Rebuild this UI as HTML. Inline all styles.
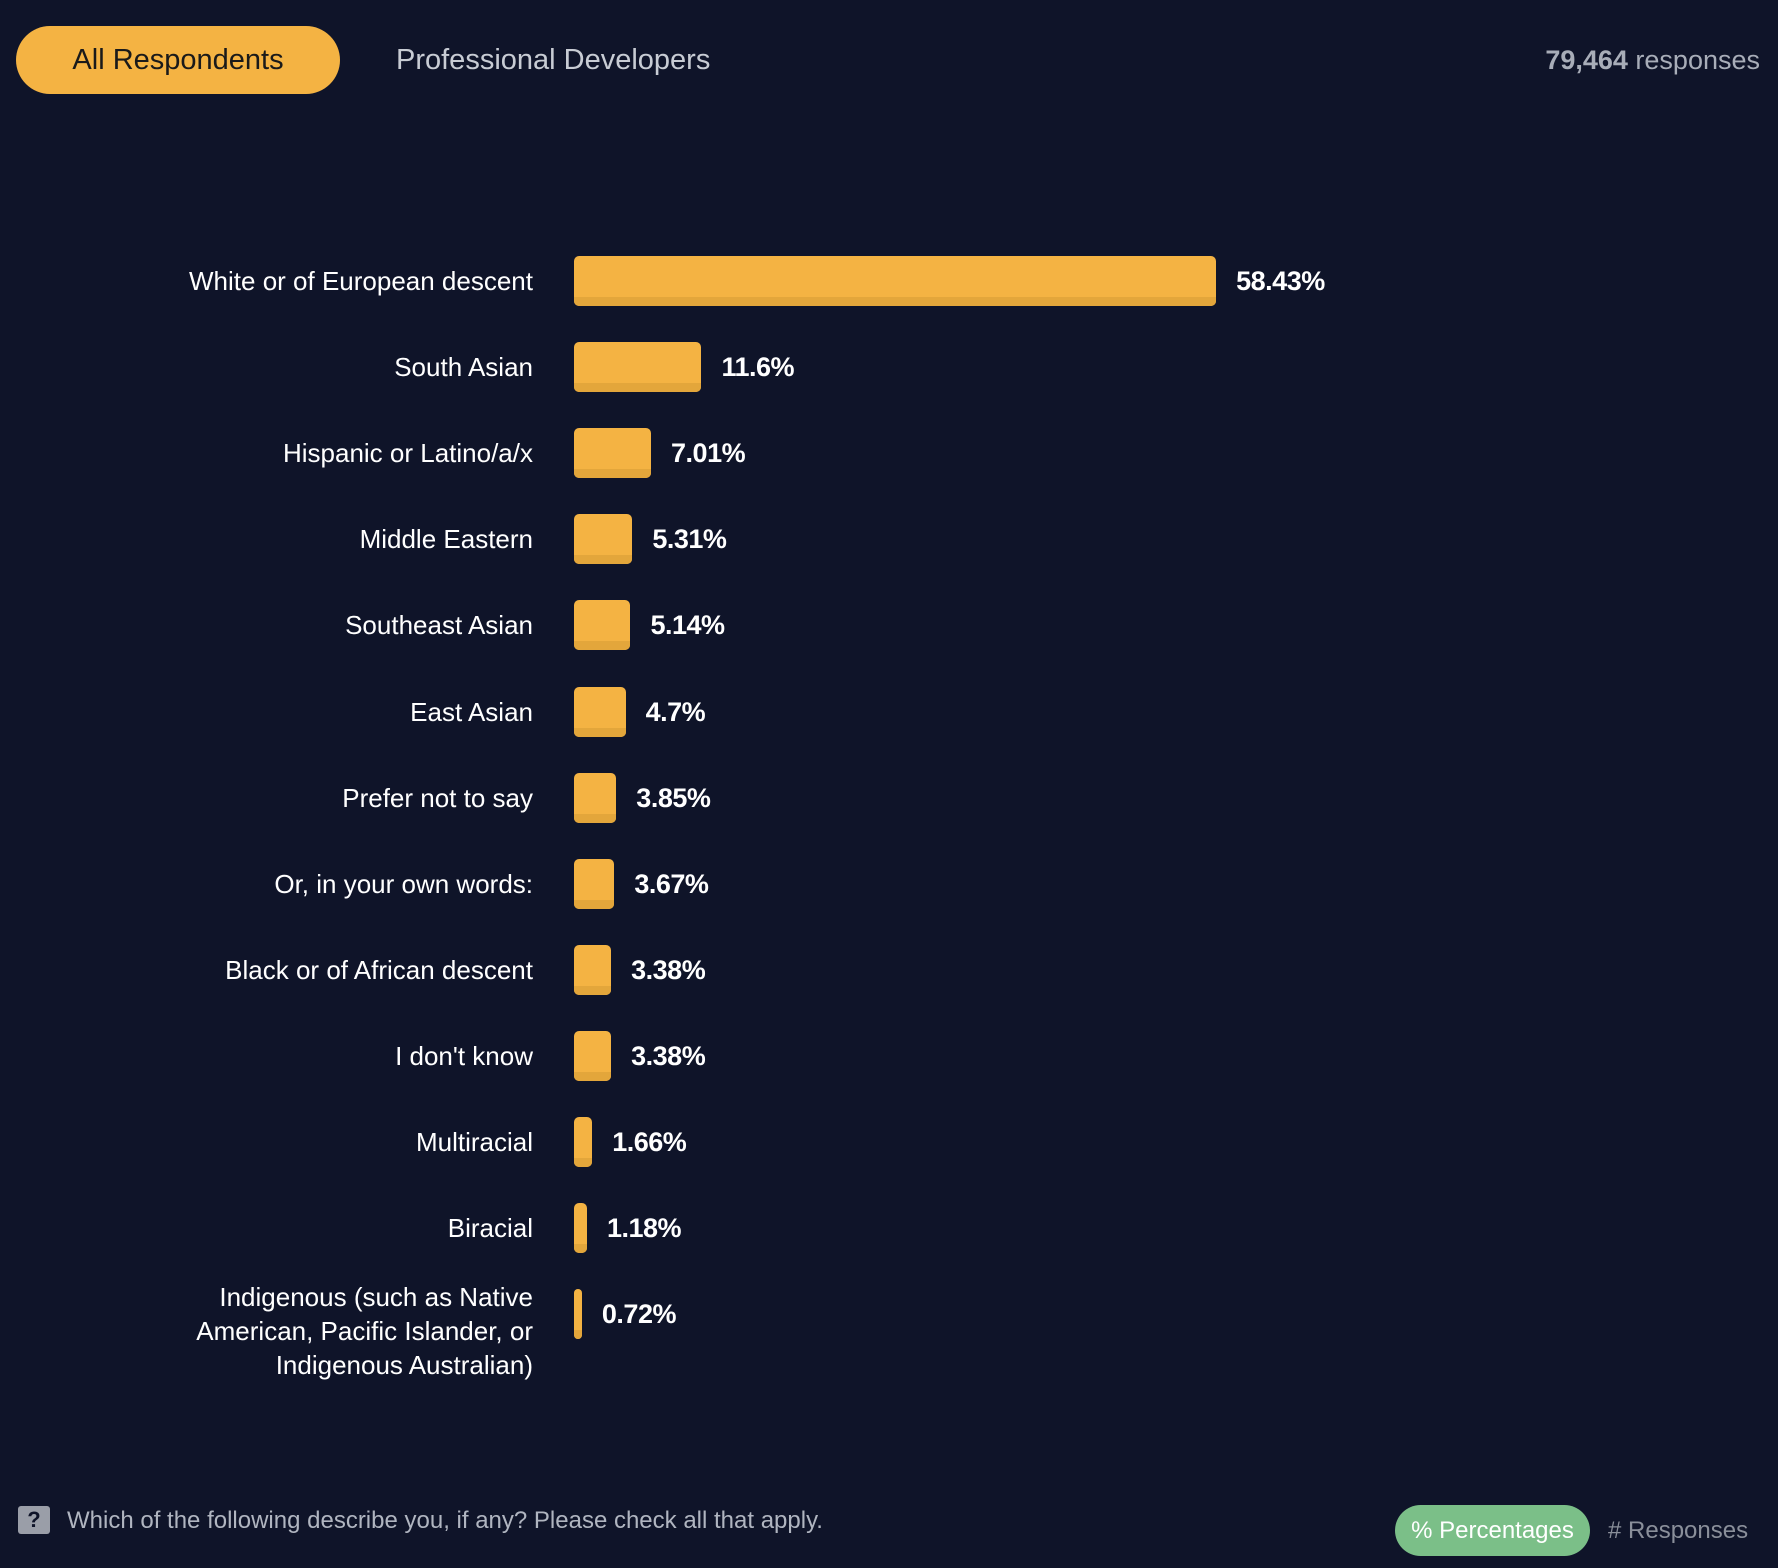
<!DOCTYPE html>
<html><head><meta charset="utf-8"><style>
html,body{margin:0;padding:0;background:#0f1429;width:1778px;height:1568px;overflow:hidden;font-family:"Liberation Sans",sans-serif}
.abs{position:absolute}
#pill{left:16px;top:26px;width:324px;height:68px;border-radius:34px;background:#f4b343;color:#1a1a1a;font-size:29px;line-height:68px;text-align:center}
#pro{left:396px;top:26px;height:68px;line-height:68px;font-size:29px;color:#c8ccd4}
#resp{right:18px;top:26px;height:68px;line-height:68px;font-size:27px;color:#a8adb8}
#chart{left:0;top:0;width:1778px;height:1400px}
.lbl{position:absolute;left:0;width:533px;color:#fff;font-size:26px;text-align:right;line-height:34px;white-space:nowrap}
.val{position:absolute;color:#fff;font-weight:bold;font-size:27px;line-height:34px;letter-spacing:-0.5px}
.bar{position:absolute;background:#f4b343;border-radius:5px;overflow:hidden}
.bar i{position:absolute;left:0;right:0;bottom:0;height:9px;background:#e3a63b}
#q{left:18px;top:1506px;width:32px;height:28px;background:#9a9ea8;border-radius:3px;color:#0f1429;font-weight:bold;font-size:22px;text-align:center;line-height:28px}
#qt{left:67px;top:1506px;line-height:30px;font-size:24px;color:#b0b5c0}
#pct{left:1395px;top:1505px;width:195px;height:51px;border-radius:26px;background:#7bbf88;color:#fff;font-size:24px;line-height:51px;text-align:center}
#num{left:1608px;top:1505px;height:51px;line-height:51px;font-size:24px;color:#8a8f9a}
</style></head><body>
<div id="pill" class="abs">All Respondents</div>
<div id="pro" class="abs">Professional Developers</div>
<div id="resp" class="abs"><b>79,464</b> responses</div>
<div id="chart" class="abs"></div>
<div id="q" class="abs">?</div>
<div id="qt" class="abs">Which of the following describe you, if any? Please check all that apply.</div>
<div id="pct" class="abs">% Percentages</div>
<div id="num" class="abs"># Responses</div>
<script>
const categories=["White or of European descent","South Asian","Hispanic or Latino/a/x","Middle Eastern","Southeast Asian","East Asian","Prefer not to say","Or, in your own words:","Black or of African descent","I don't know","Multiracial","Biracial","Indigenous (such as Native<br>American, Pacific Islander, or<br>Indigenous Australian)"];
const values=[58.43,11.6,7.01,5.31,5.14,4.7,3.85,3.67,3.38,3.38,1.66,1.18,0.72];
const valueLabels=["58.43%","11.6%","7.01%","5.31%","5.14%","4.7%","3.85%","3.67%","3.38%","3.38%","1.66%","1.18%","0.72%"];
const x0=574, pxPer=10.99, y0=281, step=86.1, bh=50;
const xs=v=>Math.max(6,v*pxPer);
const ys=i=>y0+i*step;
const c=document.getElementById('chart');
categories.forEach((cat,i)=>{
  const cy=ys(i);
  const l=document.createElement('div');
  
  
  l.className='lbl';l.innerHTML=cat;
  const lines=cat.split('<br>').length;
  l.style.top=(lines>1?cy-34:cy-17)+'px';
  c.appendChild(l);
  const w=xs(values[i]);
  const b=document.createElement('div');
  
  
  b.className='bar';
  b.style.left=x0+'px';b.style.top=(cy-bh/2)+'px';b.style.width=w+'px';b.style.height=bh+'px';
  if(w<12)b.style.borderRadius=(w/2)+'px';
  b.innerHTML='<i></i>';
  c.appendChild(b);
  const v=document.createElement('div');
  
  
  v.className='val';v.textContent=valueLabels[i];
  v.style.left=(x0+w+20)+'px';v.style.top=(cy-17)+'px';
  c.appendChild(v);
});
</script>
</body></html>
